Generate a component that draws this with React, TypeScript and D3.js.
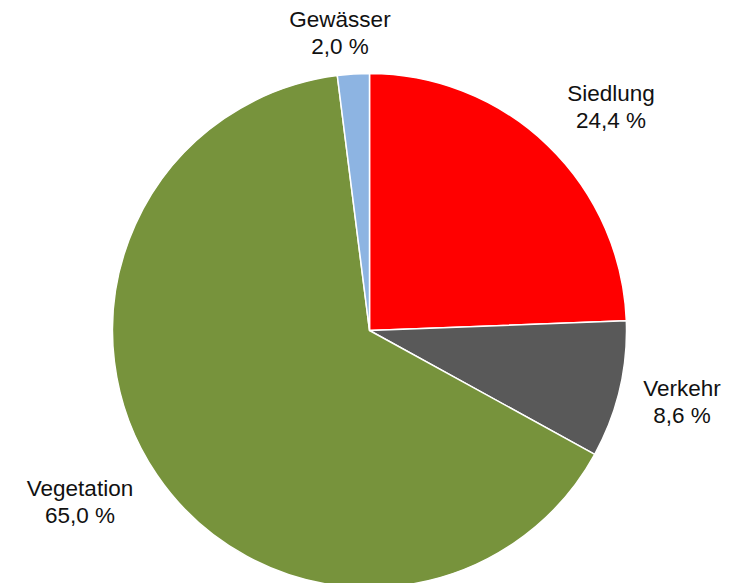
import React from "react";
import * as d3 from "d3";

const categories = ["Siedlung", "Verkehr", "Vegetation", "Gewässer"];
const values = [24.4, 8.6, 65.0, 2.0];
const valueLabels = ["24,4 %", "8,6 %", "65,0 %", "2,0 %"];
const colors = ["#FF0000", "#595959", "#77933C", "#8DB4E2"];
// label anchor positions (centre of text block, first baseline)
const labelPos: [number, number][] = [
  [611, 101],
  [682, 396],
  [80, 496],
  [340, 27],
];

export default function App() {
  const width = 740;
  const height = 583;
  const cx = 369.5;
  const cy = 330.5;
  const r = 257;
  const pie = d3
    .pie<number>()
    .sort(null)
    .value((d) => d)
    .startAngle(0)
    .endAngle(2 * Math.PI);
  const arcs = pie(values);
  const arc = d3.arc<d3.PieArcDatum<number>>().innerRadius(0).outerRadius(r);
  return (
    <svg
      width={width}
      height={height}
      style={{ position: "absolute", left: 0, top: 0, background: "#fff" }}
      fontFamily="'Liberation Sans', Arial, sans-serif"
    >
      <g transform={`translate(${cx},${cy})`}>
        {arcs.map((a, i) => (
          <path
            key={i}
            d={arc(a) || ""}
            fill={colors[i]}
            stroke="#fff"
            strokeWidth={1.5}
            strokeLinejoin="round"
          />
        ))}
      </g>
      {categories.map((c, i) => (
        <text
          key={c}
          x={labelPos[i][0]}
          y={labelPos[i][1]}
          textAnchor="middle"
          fontSize={22.5}
          fill="#111"
        >
          <tspan x={labelPos[i][0]}>{c}</tspan>
          <tspan x={labelPos[i][0]} dy={26.5}>
            {valueLabels[i]}
          </tspan>
        </text>
      ))}
    </svg>
  );
}
